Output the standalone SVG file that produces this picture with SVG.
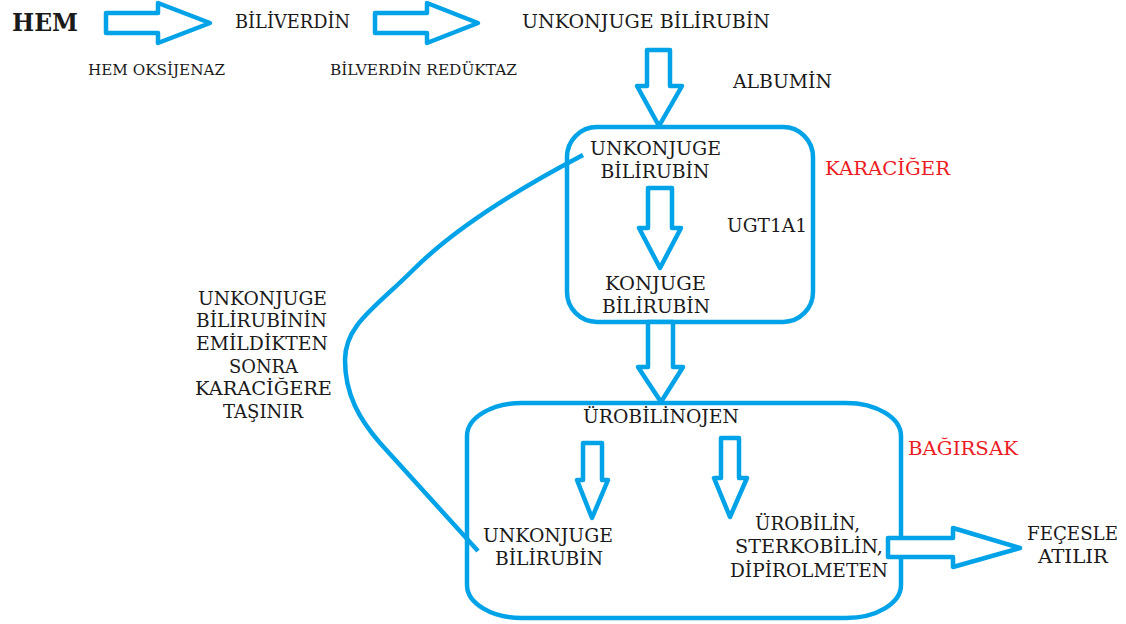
<svg xmlns="http://www.w3.org/2000/svg" width="1126" height="624" viewBox="0 0 1126 624">
<style>
text{font-family:"DejaVu Serif",serif;fill:#1a1a1a;font-size:18.5px;text-anchor:middle}
.sm{font-size:15px}
.red{fill:#ed1c24}
.box{fill:none;stroke:#00a2e8;stroke-width:4.5}
.arr{fill:#fff;stroke:#00a2e8;stroke-width:4.5;stroke-linejoin:round}
.ln{fill:none;stroke:#00a2e8;stroke-width:4.5;stroke-linecap:butt}
</style>
<rect width="1126" height="624" fill="#fff"/>
<g id="liver-box"><rect class="box" x="567" y="127" width="246" height="195" rx="30" ry="30"/></g>
<g id="intestine-box"><rect class="box" x="467" y="403" width="434" height="215" rx="55" ry="33"/></g>
<g id="connectors">
<path class="ln" d="M583,155 C520,188 455,228 413,270 C375,308 345,325 345,360 C345,395 360,420 380,443 L478,551"/>
<polygon class="arr" points="106,13 158,13 158,3 210,23 158,43 158,33 106,33"/>
<polygon class="arr" points="375,13 427,13 427,3 478,23 427,43 427,33 375,33"/>
<polygon class="arr" points="647,50 670,50 670,86 682,86 659,126 637,86 647,86"/>
<polygon class="arr" points="648,188 672,188 672,228 681,228 660,268 639,228 648,228"/>
<polygon class="arr" points="648,322 673,322 673,367 683,367 661,402 638,367 648,367"/>
<polygon class="arr" points="583,443 602,443 602,480 608,480 592,518 577,480 583,480"/>
<polygon class="arr" points="721,438 739,438 739,478 747,478 730,517 714,478 721,478"/>
<polygon class="arr" points="888,538 953,538 953,528 1020,548 953,567 953,557 888,557"/>
</g>
<g id="hem"><text x="12" y="31" textLength="66" lengthAdjust="spacingAndGlyphs" style="font-size:25px;font-weight:bold;text-anchor:start">HEM</text></g>
<g id="hem-oksijenaz"><text class="sm" x="156.5" y="75" textLength="137" lengthAdjust="spacingAndGlyphs">HEM OKSİJENAZ</text></g>
<g id="biliverdin"><text x="292.5" y="28" textLength="115" lengthAdjust="spacingAndGlyphs">BİLİVERDİN</text></g>
<g id="biliverdin-reduktaz"><text class="sm" x="423.5" y="75" textLength="187" lengthAdjust="spacingAndGlyphs">BİLVERDİN REDÜKTAZ</text></g>
<g id="unkonjuge-top"><text x="646" y="28" textLength="248" lengthAdjust="spacingAndGlyphs">UNKONJUGE BİLİRUBİN</text></g>
<g id="albumin"><text x="782.5" y="88" textLength="99" lengthAdjust="spacingAndGlyphs">ALBUMİN</text></g>
<g id="liver-unkonjuge"><text x="655.5" y="155" textLength="131" lengthAdjust="spacingAndGlyphs">UNKONJUGE</text><text x="655" y="178" textLength="109" lengthAdjust="spacingAndGlyphs">BİLİRUBİN</text></g>
<g id="ugt1a1"><text x="767" y="232" textLength="80" lengthAdjust="spacingAndGlyphs">UGT1A1</text></g>
<g id="konjuge"><text x="655.5" y="290" textLength="101" lengthAdjust="spacingAndGlyphs">KONJUGE</text><text x="656" y="313" textLength="108" lengthAdjust="spacingAndGlyphs">BİLİRUBİN</text></g>
<g id="karaciger"><text class="red" x="887.5" y="175" textLength="125" lengthAdjust="spacingAndGlyphs">KARACİĞER</text></g>
<g id="note">
<text x="262.5" y="305" textLength="129" lengthAdjust="spacingAndGlyphs">UNKONJUGE</text>
<text x="261.5" y="327" textLength="131" lengthAdjust="spacingAndGlyphs">BİLİRUBİNİN</text>
<text x="262" y="350" textLength="132" lengthAdjust="spacingAndGlyphs">EMİLDİKTEN</text>
<text x="263.5" y="373" textLength="69" lengthAdjust="spacingAndGlyphs">SONRA</text>
<text x="263.5" y="395" textLength="137" lengthAdjust="spacingAndGlyphs">KARACİĞERE</text>
<text x="263" y="418" textLength="80" lengthAdjust="spacingAndGlyphs">TAŞINIR</text>
</g>
<g id="urobilinojen"><text x="661" y="423" textLength="156" lengthAdjust="spacingAndGlyphs">ÜROBİLİNOJEN</text></g>
<g id="bagirsak"><text class="red" x="963" y="455" textLength="110" lengthAdjust="spacingAndGlyphs">BAĞIRSAK</text></g>
<g id="intestine-unkonjuge"><text x="548" y="542" textLength="130" lengthAdjust="spacingAndGlyphs">UNKONJUGE</text><text x="549" y="565" textLength="108" lengthAdjust="spacingAndGlyphs">BİLİRUBİN</text></g>
<g id="urobilin"><text x="807.5" y="530" textLength="105" lengthAdjust="spacingAndGlyphs">ÜROBİLİN,</text><text x="809" y="553" textLength="148" lengthAdjust="spacingAndGlyphs">STERKOBİLİN,</text><text x="809" y="577" textLength="158" lengthAdjust="spacingAndGlyphs">DİPİROLMETEN</text></g>
<g id="feces"><text x="1072.5" y="540" textLength="91" lengthAdjust="spacingAndGlyphs">FEÇESLE</text><text x="1073" y="563" textLength="70" lengthAdjust="spacingAndGlyphs">ATILIR</text></g>
</svg>
